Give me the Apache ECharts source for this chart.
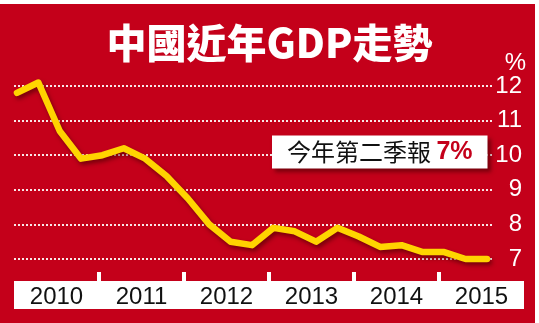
<!DOCTYPE html>
<html><head><meta charset="utf-8">
<script src="https://cdn.jsdelivr.net/npm/echarts@6/dist/echarts.min.js"></script>
<style>
html,body{margin:0;padding:0;background:#fff;}
#c{width:539px;height:323px;background:linear-gradient(#fff 0 4px, transparent 4px),linear-gradient(to right,#C4001A 535px,#fff 535px);}
</style></head>
<body><div id="c"></div>
<script>
const titleText = '中國近年GDP走勢';
const years = ['2010','2011','2012','2013','2014','2015'];
const gdp = [11.8, 12.1, 10.7, 9.9, 10.0, 10.2, 9.9, 9.4, 8.75, 8.0, 7.5, 7.4, 7.9, 7.8, 7.5, 7.9, 7.65, 7.35, 7.4, 7.2, 7.2, 7.0, 7.0];
const yMin = 7, yMax = 12, yStep = 1;
const unit = '%';
const noteText = '今年第二季報 ';
const noteValue = '7%';

const chart = echarts.init(document.getElementById('c'), null, {renderer:'canvas'});
const latin = "'Liberation Sans', Arial, sans-serif";
chart.setOption({
  animation:false,
  backgroundColor:'transparent',
  title:[
    {text:titleText, left:'center', top:18,
     textStyle:{color:'#fff', fontSize:40, fontWeight:900, fontFamily:"'Noto Sans CJK TC','Noto Sans CJK SC',sans-serif"}},
    {text:'{a|'+noteText+'}{b|'+noteValue+'}', left:272, top:135,
     backgroundColor:'#fff', padding:[4,15,4,15],
     shadowColor:'rgba(60,0,0,0.55)', shadowBlur:4, shadowOffsetX:3, shadowOffsetY:3,
     textStyle:{fontWeight:'normal', rich:{
       a:{color:'#111', fontSize:24, fontWeight:'normal', fontFamily:"'Noto Sans CJK TC',sans-serif", lineHeight:26},
       b:{color:'#C4001A', fontSize:25, fontWeight:'bold', fontFamily:latin, lineHeight:26}
     }}},
    {text:unit, left:521, top:46, textAlign:'right',
     textStyle:{color:'#fff', fontSize:24, fontWeight:'normal', fontFamily:latin}}
  ],
  grid:[
    {left:14, right:45, top:86, bottom:64},
    {left:14, right:15, top:281, height:28, show:true, backgroundColor:'#fff', borderWidth:0},
    {left:14, right:15, top:272, height:9}
  ],
  xAxis:[
    {type:'value', gridIndex:0, min:-0.14, max:22.33, show:false},
    {type:'category', gridIndex:1, data:years, position:'top',
     axisLine:{show:false}, axisTick:{show:false},
     axisLabel:{inside:true, margin:4, color:'#111', fontSize:24, fontFamily:latin}},
    {type:'category', gridIndex:2, data:years,
     axisLine:{show:false}, axisTick:{show:false}, axisLabel:{show:false},
     splitLine:{show:true, showMinLine:false, showMaxLine:false, lineStyle:{color:'#fff', width:4}}}
  ],
  yAxis:[
    {type:'value', gridIndex:0, min:yMin, max:yMax, interval:yStep, position:'right',
     axisLine:{show:false}, axisTick:{show:false},
     axisLabel:{color:'#fff', fontSize:24, fontFamily:latin, align:'right', margin:28},
     splitLine:{lineStyle:{color:'rgba(255,255,255,0.9)', width:2, type:[2,2]}}},
    {type:'value', gridIndex:1, show:false},
    {type:'value', gridIndex:2, show:false}
  ],
  series:[{
    type:'line', xAxisIndex:0, yAxisIndex:0,
    data:gdp.map((v,i)=>[i,v]),
    showSymbol:false, clip:false,
    lineStyle:{color:'#FFD400', width:6.5, cap:'round', join:'round',
      shadowColor:'rgba(70,0,0,0.6)', shadowBlur:4, shadowOffsetX:2, shadowOffsetY:3}
  }]
});
</script></body></html>
